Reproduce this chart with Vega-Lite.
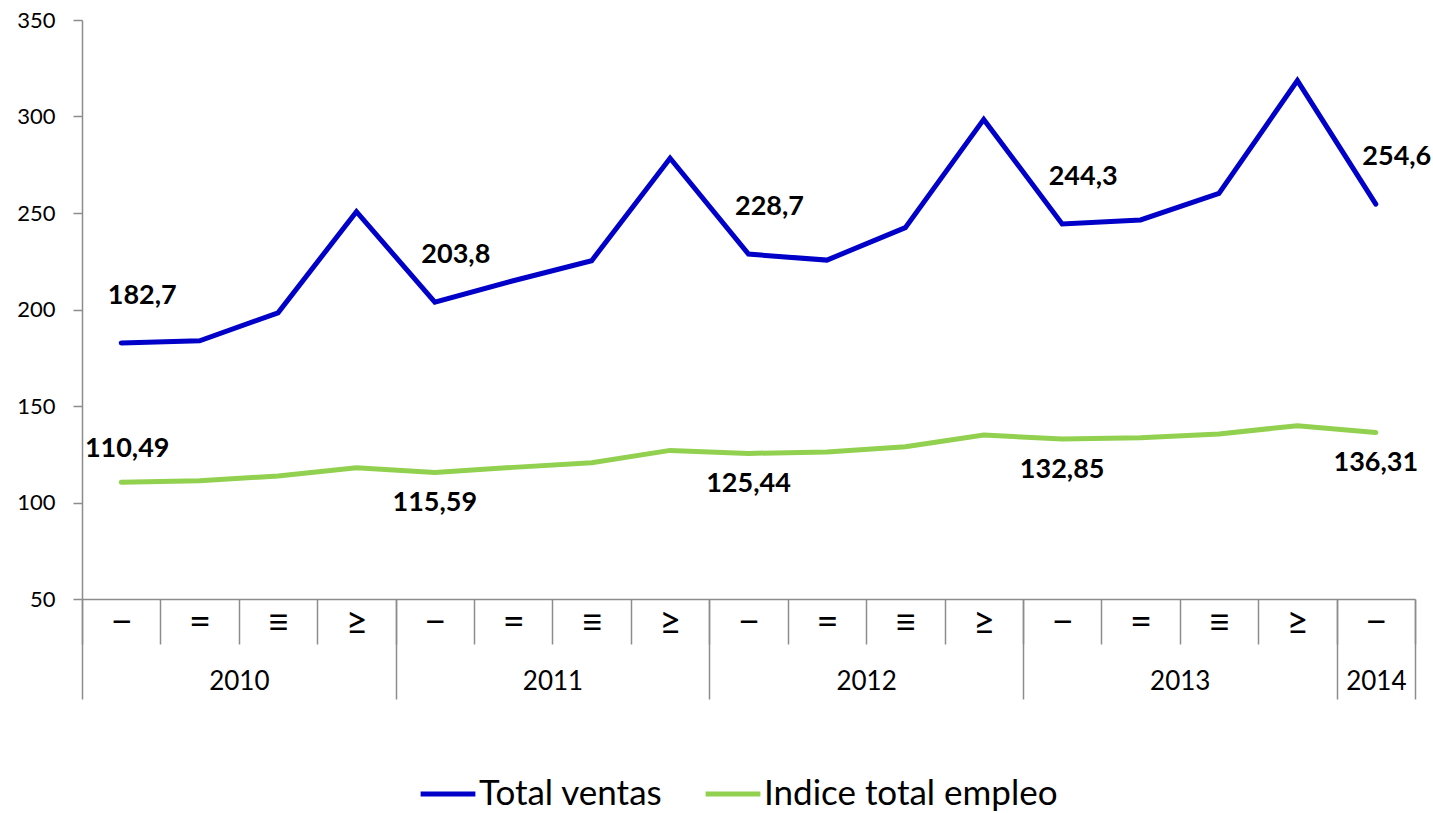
{
  "$schema": "https://vega.github.io/schema/vega-lite/v6.json",
  "width": 1333,
  "height": 579,
  "autosize": "none",
  "padding": {"left": 82, "top": 20, "right": 18, "bottom": 214},
  "config": {
    "view": {"stroke": null},
    "font": "Lato",
    "locale": {"number": {"decimal": ",", "thousands": ".", "grouping": [3], "currency": ["", " €"]}},
    "axisY": {
      "grid": false,
      "domainColor": "#8c8c8c",
      "tickColor": "#8c8c8c",
      "domainWidth": 1.5,
      "tickWidth": 1.5,
      "tickSize": 9,
      "labelFont": "Lato",
      "labelFontSize": 22,
      "labelColor": "#000000",
      "labelPadding": 18,
      "title": null
    },
    "legend": {
      "orient": "none",
      "legendX": 336,
      "legendY": 744,
      "direction": "horizontal",
      "symbolType": "stroke",
      "symbolStrokeWidth": 5,
      "symbolSize": 3000,
      "labelFont": "Lato",
      "labelFontSize": 35,
      "labelColor": "#000000",
      "labelOffset": 1,
      "columnPadding": 32,
      "labelLimit": 500,
      "title": null
    }
  },
  "data": {
    "values": [
      {"period": "2010|1", "year": 2010, "q": 1, "serie": "Total ventas", "value": 182.7},
      {"period": "2010|2", "year": 2010, "q": 2, "serie": "Total ventas", "value": 183.8},
      {"period": "2010|3", "year": 2010, "q": 3, "serie": "Total ventas", "value": 198.3},
      {"period": "2010|4", "year": 2010, "q": 4, "serie": "Total ventas", "value": 250.7},
      {"period": "2011|1", "year": 2011, "q": 1, "serie": "Total ventas", "value": 203.8},
      {"period": "2011|2", "year": 2011, "q": 2, "serie": "Total ventas", "value": 214.9},
      {"period": "2011|3", "year": 2011, "q": 3, "serie": "Total ventas", "value": 225.3},
      {"period": "2011|4", "year": 2011, "q": 4, "serie": "Total ventas", "value": 278.4},
      {"period": "2012|1", "year": 2012, "q": 1, "serie": "Total ventas", "value": 228.7},
      {"period": "2012|2", "year": 2012, "q": 2, "serie": "Total ventas", "value": 225.6},
      {"period": "2012|3", "year": 2012, "q": 3, "serie": "Total ventas", "value": 242.4},
      {"period": "2012|4", "year": 2012, "q": 4, "serie": "Total ventas", "value": 298.5},
      {"period": "2013|1", "year": 2013, "q": 1, "serie": "Total ventas", "value": 244.3},
      {"period": "2013|2", "year": 2013, "q": 2, "serie": "Total ventas", "value": 246.4},
      {"period": "2013|3", "year": 2013, "q": 3, "serie": "Total ventas", "value": 260.2},
      {"period": "2013|4", "year": 2013, "q": 4, "serie": "Total ventas", "value": 318.6},
      {"period": "2014|1", "year": 2014, "q": 1, "serie": "Total ventas", "value": 254.6},
      {"period": "2010|1", "year": 2010, "q": 1, "serie": "Indice total empleo", "value": 110.49},
      {"period": "2010|2", "year": 2010, "q": 2, "serie": "Indice total empleo", "value": 111.3},
      {"period": "2010|3", "year": 2010, "q": 3, "serie": "Indice total empleo", "value": 113.7},
      {"period": "2010|4", "year": 2010, "q": 4, "serie": "Indice total empleo", "value": 118.0},
      {"period": "2011|1", "year": 2011, "q": 1, "serie": "Indice total empleo", "value": 115.59},
      {"period": "2011|2", "year": 2011, "q": 2, "serie": "Indice total empleo", "value": 118.2},
      {"period": "2011|3", "year": 2011, "q": 3, "serie": "Indice total empleo", "value": 120.6},
      {"period": "2011|4", "year": 2011, "q": 4, "serie": "Indice total empleo", "value": 127.0},
      {"period": "2012|1", "year": 2012, "q": 1, "serie": "Indice total empleo", "value": 125.44},
      {"period": "2012|2", "year": 2012, "q": 2, "serie": "Indice total empleo", "value": 126.2},
      {"period": "2012|3", "year": 2012, "q": 3, "serie": "Indice total empleo", "value": 128.9},
      {"period": "2012|4", "year": 2012, "q": 4, "serie": "Indice total empleo", "value": 135.0},
      {"period": "2013|1", "year": 2013, "q": 1, "serie": "Indice total empleo", "value": 132.85},
      {"period": "2013|2", "year": 2013, "q": 2, "serie": "Indice total empleo", "value": 133.6},
      {"period": "2013|3", "year": 2013, "q": 3, "serie": "Indice total empleo", "value": 135.5},
      {"period": "2013|4", "year": 2013, "q": 4, "serie": "Indice total empleo", "value": 139.8},
      {"period": "2014|1", "year": 2014, "q": 1, "serie": "Indice total empleo", "value": 136.31}
    ]
  },
  "resolve": {"axis": {"x": "independent"}},
  "layer": [
    {
      "mark": {"type": "line", "strokeWidth": 5, "strokeCap": "round"},
      "encoding": {
        "x": {
          "field": "period",
          "type": "ordinal",
          "sort": null,
          "scale": {"type": "band", "paddingInner": 0, "paddingOuter": 0},
          "axis": {
            "orient": "bottom",
            "title": null,
            "tickBand": "extent",
            "domainColor": "#8c8c8c",
            "domainWidth": 1.5,
            "tickColor": "#8c8c8c",
            "tickWidth": 1.5,
            "tickSize": 45,
            "labelAngle": 0,
            "labelFont": "Lato",
            "labelFontSize": 38,
            "labelColor": "#000000",
            "labelPadding": -40,
            "labelExpr": "!isValid(datum.value) ? '' : split(datum.value, '|')[1] == '1' ? '−' : split(datum.value, '|')[1] == '2' ? '=' : split(datum.value, '|')[1] == '3' ? '≡' : '≥'"
          }
        },
        "y": {
          "field": "value",
          "type": "quantitative",
          "title": null,
          "scale": {"domain": [50, 350], "nice": false, "zero": false},
          "axis": {"values": [50, 100, 150, 200, 250, 300, 350]}
        },
        "color": {
          "field": "serie",
          "type": "nominal",
          "sort": null,
          "scale": {"domain": ["Total ventas", "Indice total empleo"], "range": ["#0000C8", "#92D050"]}
        }
      }
    },
    {
      "transform": [{"filter": "datum.serie == 'Total ventas' && datum.q == 1"}],
      "mark": {"type": "text", "font": "Lato", "fontWeight": "bold", "fontSize": 27, "color": "#000000", "dx": 21, "dy": -47, "align": "center", "baseline": "middle"},
      "encoding": {
        "x": {
          "field": "period",
          "type": "ordinal",
          "sort": null,
          "axis": {
            "orient": "bottom",
            "title": null,
            "domain": false,
            "tickBand": "extent",
            "tickSize": 100,
            "tickWidth": 1.5,
            "tickColor": "#8c8c8c",
            "tickOpacity": {"condition": {"test": "!isValid(datum.value) || split(datum.value, '|')[1] == '4' || datum.value == '2014|1'", "value": 1}, "value": 0},
            "labelAngle": 0,
            "labelFont": "Lato",
            "labelFontSize": 26,
            "labelColor": "#000000",
            "labelPadding": -31,
            "labelOffset": {"condition": {"test": "isValid(datum.value) && split(datum.value, '|')[1] == '2'", "value": 39.2}, "value": 0},
            "labelExpr": "!isValid(datum.value) ? '' : (split(datum.value, '|')[1] == '2' || datum.value == '2014|1') ? split(datum.value, '|')[0] : ''"
          }
        },
        "y": {"field": "value", "type": "quantitative", "title": null},
        "text": {"field": "value", "type": "quantitative", "format": "~g"}
      }
    },
    {
      "transform": [{"filter": "datum.serie == 'Indice total empleo' && datum.q == 1 && datum.year == 2010"}],
      "mark": {"type": "text", "font": "Lato", "fontWeight": "bold", "fontSize": 27, "color": "#000000", "dx": 6, "dy": -33, "align": "center", "baseline": "middle"},
      "encoding": {
        "x": {"field": "period", "type": "ordinal", "sort": null, "axis": null},
        "y": {"field": "value", "type": "quantitative", "title": null},
        "text": {"field": "value", "type": "quantitative", "format": "~g"}
      }
    },
    {
      "transform": [{"filter": "datum.serie == 'Indice total empleo' && datum.q == 1 && datum.year > 2010"}],
      "mark": {"type": "text", "font": "Lato", "fontWeight": "bold", "fontSize": 27, "color": "#000000", "dx": 0, "dy": 31, "align": "center", "baseline": "middle"},
      "encoding": {
        "x": {"field": "period", "type": "ordinal", "sort": null, "axis": null},
        "y": {"field": "value", "type": "quantitative", "title": null},
        "text": {"field": "value", "type": "quantitative", "format": "~g"}
      }
    }
  ]
}
